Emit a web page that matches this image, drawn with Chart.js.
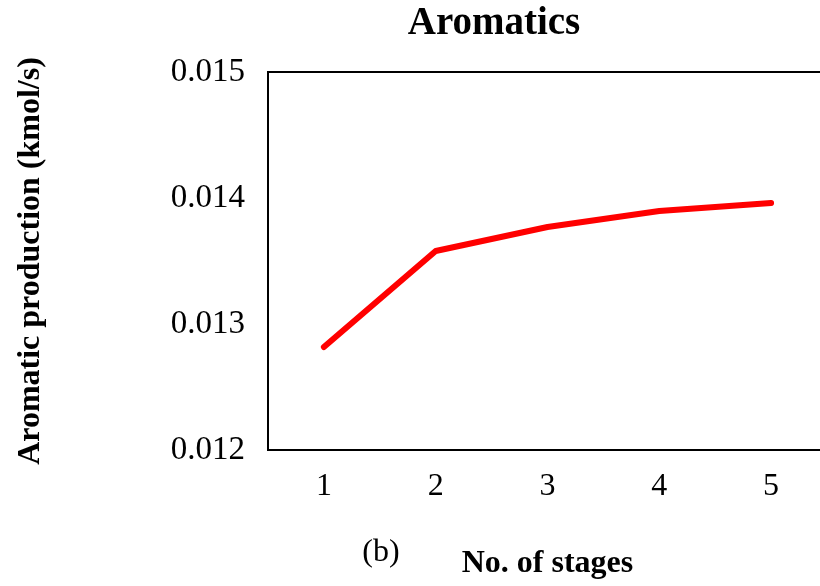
<!DOCTYPE html>
<html>
<head>
<meta charset="utf-8">
<script src="https://cdn.jsdelivr.net/npm/chart.js@4.4.0/dist/chart.umd.min.js"></script>
<style>
  html, body { margin: 0; padding: 0; background: #fff; overflow: hidden; }
  #wrap { width: 820px; height: 586px; overflow: hidden; }
  canvas { display: block; }
</style>
</head>
<body>
<div id="wrap"><canvas id="chart" width="827" height="586"></canvas></div>
<script>
// data
const stages = ['1', '2', '3', '4', '5'];
const aromaticProduction = [0.012817, 0.013579, 0.013770, 0.013897, 0.013960];
const yTicks = [0.012, 0.013, 0.014, 0.015];

const serif = "'Liberation Serif', 'Times New Roman', serif";

// chart title, frame round the plot area and the "(b)" caption
const frameAndCaption = {
    id: 'frameAndCaption',
    afterDraw(chart) {
        const ctx = chart.ctx;
        const a = chart.chartArea;
        ctx.save();
        ctx.strokeStyle = '#000';
        ctx.lineWidth = 2;
        ctx.strokeRect(a.left, a.top, a.right - a.left, a.bottom - a.top);
        ctx.fillStyle = '#000';
        ctx.textAlign = 'center';
        ctx.textBaseline = 'middle';
        ctx.font = 'bold 39px ' + serif;
        ctx.fillText('Aromatics', 494, 24);
        ctx.font = '32px ' + serif;
        ctx.fillText('(b)', 381, 553);
        ctx.restore();
    }
};

new Chart(document.getElementById('chart').getContext('2d'), {
    type: 'line',
    data: {
        labels: stages,
        datasets: [{
            label: 'Aromatics',
            data: aromaticProduction,
            borderColor: '#ff0000',
            borderWidth: 6,
            borderCapStyle: 'round',
            borderJoinStyle: 'round',
            pointRadius: 0,
            tension: 0,
            fill: false
        }]
    },
    options: {
        responsive: false,
        animation: false,
        layout: { padding: { top: 72, left: 0, right: 0, bottom: 0 } },
        scales: {
            x: {
                offset: true,
                grid: { display: false, drawTicks: false },
                border: { display: false },
                ticks: { color: '#000', font: { family: serif, size: 32 }, padding: 17 },
                title: {
                    display: true,
                    text: 'No. of stages',
                    color: '#000',
                    font: { family: serif, size: 32, weight: 'bold' },
                    padding: { top: 0, bottom: 3 }
                },
                afterFit(scale) { scale.height = 136; }
            },
            y: {
                min: 0.012,
                max: 0.015,
                afterBuildTicks(scale) { scale.ticks = yTicks.map(v => ({ value: v })); },
                grid: { display: false, drawTicks: false },
                border: { display: false },
                ticks: {
                    color: '#000',
                    font: { family: serif, size: 33 },
                    padding: 23,
                    callback: v => v.toFixed(3)
                },
                title: {
                    display: true,
                    text: 'Aromatic production (kmol/s)',
                    color: '#000',
                    font: { family: serif, size: 32, weight: 'bold' },
                    padding: { top: 12, bottom: 0 }
                },
                afterFit(scale) { scale.width = 268; }
            }
        },
        plugins: {
            legend: { display: false },
            tooltip: { enabled: false },
            title: { display: false }
        }
    },
    plugins: [frameAndCaption]
});
</script>
</body>
</html>
